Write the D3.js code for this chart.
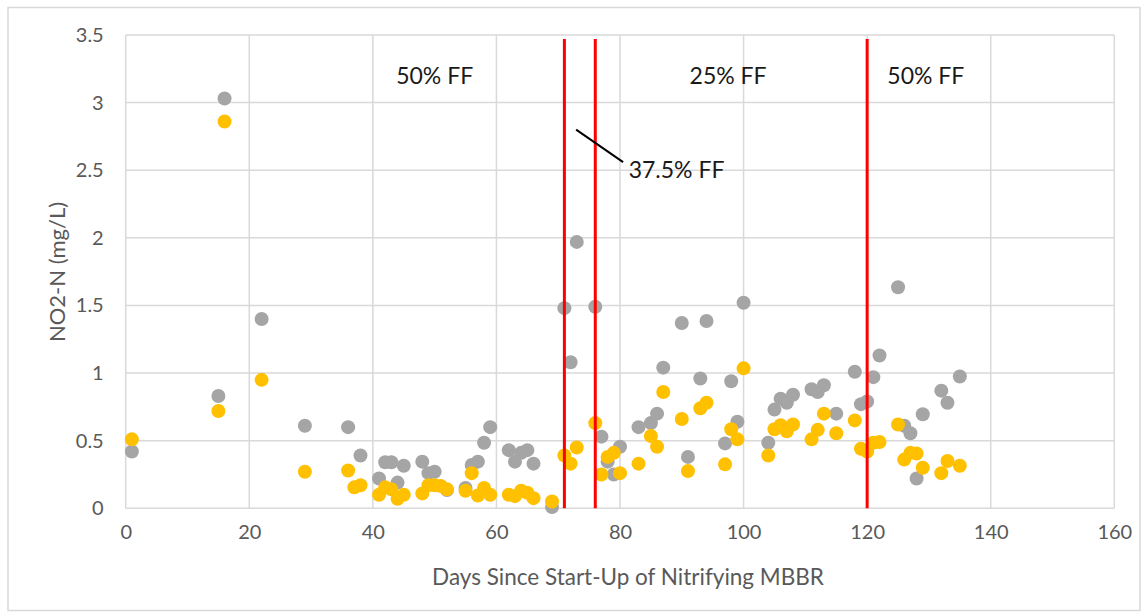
<!DOCTYPE html>
<html><head><meta charset="utf-8">
<script src="https://cdn.jsdelivr.net/npm/d3@7"></script>
<style>
body{margin:0;background:#fff;}
svg{display:block;font-family:Lato,"Open Sans",sans-serif;}
</style></head>
<body><svg id="c" width="1148" height="615"></svg>
<script>
const days  = [1,15,16,22,29,36,37,38,41,42,43,44,45,48,49,50,51,52,55,56,57,58,59,62,63,64,65,66,69,71,72,73,76,77,78,79,80,83,85,86,87,90,91,93,94,97,98,99,100,104,105,106,107,108,111,112,113,115,118,119,120,121,122,125,126,127,128,129,132,133,135];
const grayVals = [0.42,0.83,3.03,1.40,0.61,0.60,null,0.39,0.22,0.34,0.34,0.19,0.315,0.345,0.26,0.27,null,0.135,0.15,0.32,0.345,0.485,0.60,0.43,0.345,0.41,0.43,0.33,0.01,1.48,1.08,1.97,1.49,0.53,0.345,0.25,0.455,0.60,0.63,0.70,1.04,1.37,0.38,0.96,1.385,0.48,0.94,0.64,1.52,0.485,0.73,0.81,0.78,0.84,0.88,0.86,0.91,0.70,1.01,0.77,0.79,0.97,1.13,1.635,0.61,0.555,0.22,0.695,0.87,0.78,0.975];
const yellowVals = [0.51,0.72,2.86,0.95,0.27,0.28,0.155,0.17,0.10,0.155,0.14,0.07,0.10,0.11,0.17,0.17,0.165,0.14,0.13,0.26,0.095,0.15,0.10,0.10,0.09,0.13,0.115,0.075,0.05,0.39,0.33,0.45,0.63,0.25,0.38,0.41,0.26,0.33,0.535,0.455,0.86,0.66,0.275,0.74,0.78,0.325,0.585,0.51,1.035,0.39,0.585,0.615,0.57,0.62,0.51,0.58,0.70,0.555,0.65,0.44,0.42,0.485,0.49,0.62,0.36,0.41,0.405,0.30,0.26,0.35,0.315];
const phaseLines = [71,76,120];
const phaseLabels = [{t:"50% FF",x:50},{t:"25% FF",x:97.5},{t:"50% FF",x:129.5}];
const xTicks = [0,20,40,60,80,100,120,140,160];
const yTicks = [0,0.5,1,1.5,2,2.5,3,3.5];
const xTitle = "Days Since Start-Up of Nitrifying MBBR";
const yTitle = "NO2-N (mg/L)";

const svg = d3.select("#c");
const x = d3.scaleLinear().domain([0,160]).range([125.7,1114.3]);
const y = d3.scaleLinear().domain([0,3.5]).range([508.3,35]);

svg.append("rect").attr("x",8).attr("y",7.5).attr("width",1132).attr("height",603)
  .attr("fill","#fff").attr("stroke","#d9d9d9").attr("stroke-width",1.5);

const grid = svg.append("g");
grid.selectAll("line.h").data(yTicks).join("line").attr("class","h")
  .attr("x1",x(0)).attr("x2",x(160)).attr("y1",d=>y(d)).attr("y2",d=>y(d))
  .attr("stroke","#d9d9d9").attr("stroke-width",1.5);
grid.selectAll("line.v").data(xTicks).join("line").attr("class","v")
  .attr("y1",y(0)).attr("y2",y(3.5)).attr("x1",d=>x(d)).attr("x2",d=>x(d))
  .attr("stroke","#d9d9d9").attr("stroke-width",1.5);

const yAxis = d3.axisLeft(y).tickValues(yTicks).tickSize(0).tickPadding(22).tickFormat(d3.format("~g"));
svg.append("g").attr("transform",`translate(${x(0)},0)`).call(yAxis)
  .call(g=>g.select(".domain").remove())
  .selectAll("text").attr("font-size",20).attr("fill","#595959").attr("font-family","Lato");
const xAxis = d3.axisBottom(x).tickValues(xTicks).tickSize(0).tickPadding(17);
svg.append("g").attr("transform",`translate(0,${y(0)})`).call(xAxis)
  .call(g=>g.select(".domain").remove())
  .selectAll("text").attr("font-size",20).attr("fill","#595959").attr("font-family","Lato");

svg.append("text").attr("x",628).attr("y",585).attr("text-anchor","middle")
  .attr("font-size",22.5).attr("fill","#595959").text(xTitle);
svg.append("text").attr("transform","translate(65,272) rotate(-90)").attr("text-anchor","middle")
  .attr("font-size",22).attr("fill","#595959").text(yTitle);

const pts = svg.append("g");
pts.selectAll("circle.g").data(days.map((d,i)=>({d,v:grayVals[i]})).filter(p=>p.v!=null))
  .join("circle").attr("class","g").attr("cx",p=>x(p.d)).attr("cy",p=>y(p.v)).attr("r",7).attr("fill","#a5a5a5");
pts.selectAll("circle.y").data(days.map((d,i)=>({d,v:yellowVals[i]})).filter(p=>p.v!=null))
  .join("circle").attr("class","y").attr("cx",p=>x(p.d)).attr("cy",p=>y(p.v)).attr("r",7).attr("fill","#ffc000");

svg.selectAll("line.red").data(phaseLines).join("line").attr("class","red")
  .attr("x1",d=>x(d)).attr("x2",d=>x(d)).attr("y1",y(0)).attr("y2",y(3.47))
  .attr("stroke","#ff0000").attr("stroke-width",3);

svg.selectAll("text.ph").data(phaseLabels).join("text").attr("class","ph")
  .attr("x",d=>x(d.x)).attr("y",y(3.2)+8).attr("text-anchor","middle")
  .attr("font-size",23).attr("fill","#1a1a1a").text(d=>d.t);

svg.append("line").attr("x1",x(72.9)).attr("y1",y(2.8)).attr("x2",x(80.5)).attr("y2",y(2.56))
  .attr("stroke","#000").attr("stroke-width",2);
svg.append("text").attr("x",x(81.4)).attr("y",y(2.5)+8).attr("font-size",23).attr("fill","#1a1a1a").text("37.5% FF");
</script></body></html>
